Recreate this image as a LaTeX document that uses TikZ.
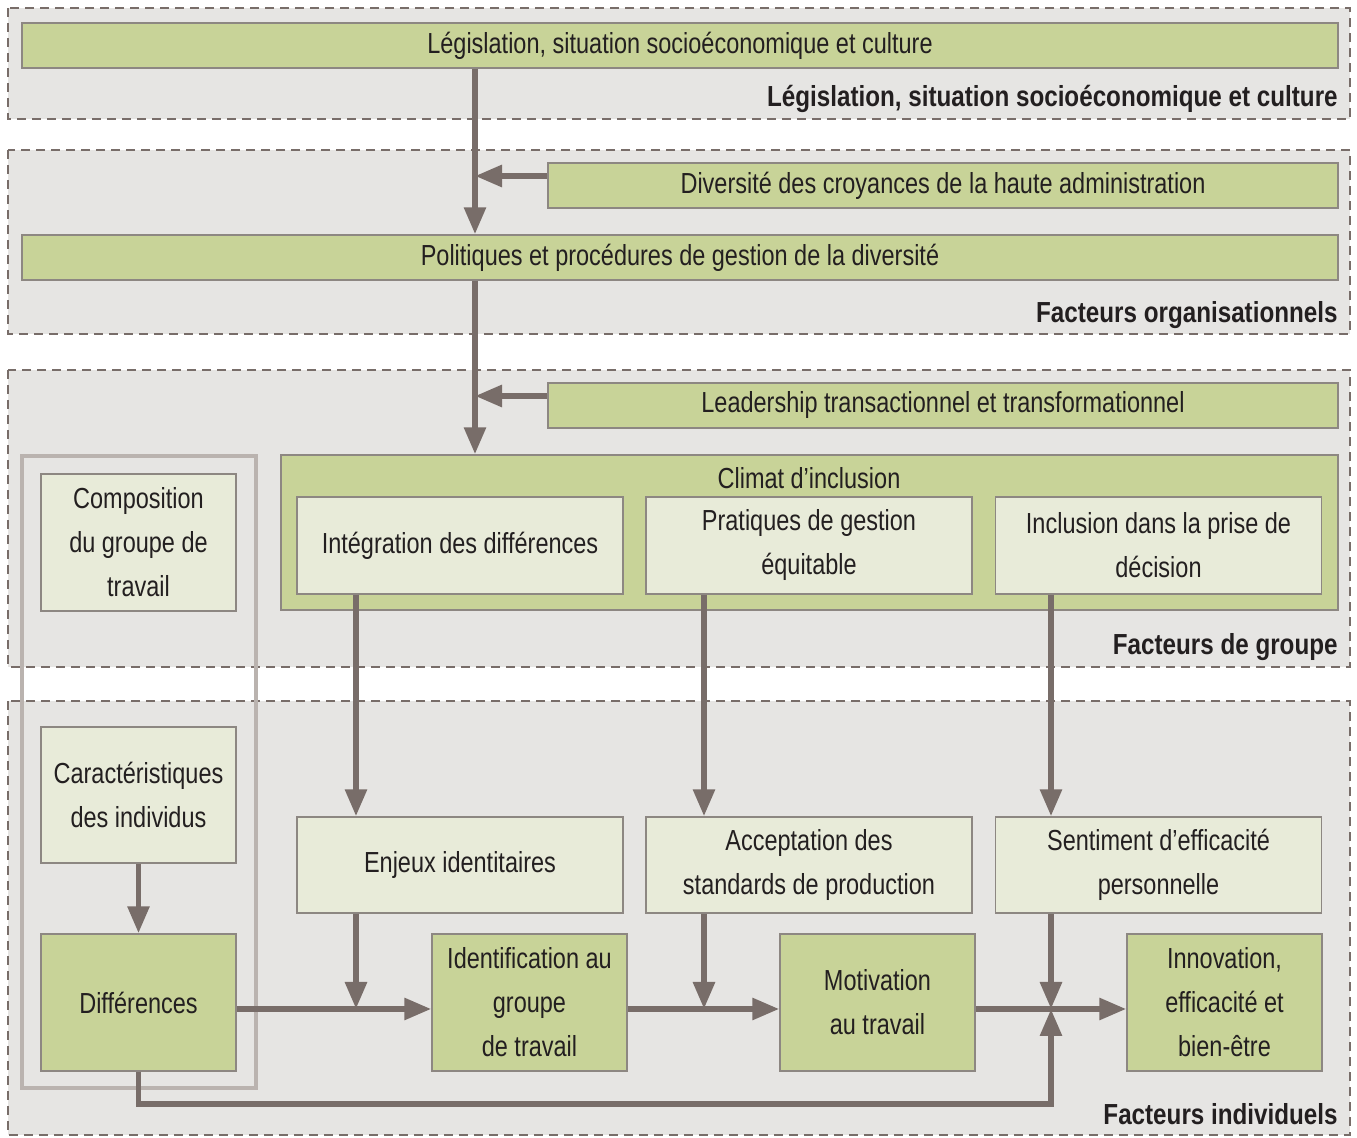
\documentclass[tikz,border=0pt]{standalone}
\usepackage{fontspec}
\setmainfont{Liberation Sans}[FakeStretch=0.81, BoldFeatures={FakeStretch=0.835}]
\usetikzlibrary{arrows.meta}
\definecolor{panelfill}{HTML}{E6E5E3}
\definecolor{gfill}{HTML}{C8D398}
\definecolor{lfill}{HTML}{E8EBD9}
\definecolor{arrc}{HTML}{786D69}
\definecolor{framec}{HTML}{BAB3AF}
\definecolor{bordc}{HTML}{8D8782}
\definecolor{txtc}{HTML}{231F20}
\tikzset{
  x=0.5pt, y=-0.5pt,
  panel/.style={draw=arrc, fill=panelfill, line width=1pt, dash pattern=on 4.5pt off 3pt},
  basebox/.style={draw=bordc, line width=0.7pt, inner sep=0pt, align=center, text=txtc,
    font=\fontsize{14.5}{22}\selectfont},
  gbox/.style={basebox, fill=gfill},
  lbox/.style={basebox, fill=lfill},
  wide/.style={minimum width=658pt, minimum height=22.5pt},
  half/.style={minimum width=395pt, minimum height=22.5pt},
  inner/.style={minimum width=163pt, minimum height=48.5pt},
  mid/.style={minimum width=163pt, minimum height=48pt},
  sq/.style={minimum width=97.5pt, minimum height=68.5pt},
  arr/.style={draw=arrc, line width=2.9pt, -{Triangle[width=10.5pt,length=13.5pt]}},
  lab/.style={anchor=base east, inner sep=0pt, text=txtc, font=\fontsize{14.5}{22}\selectfont\bfseries},
}
\begin{document}
\begin{tikzpicture}
\useasboundingbox (0,0) rectangle (1357,1138);
% panels
\draw[panel] (8,8) rectangle (1350,119);
\draw[panel] (8,150) rectangle (1350,334);
\draw[panel] (8,370) rectangle (1350,667);
\draw[panel] (8,701) rectangle (1350,1135);
% labels
\node[lab] (l1) at (1338,107) {Législation, situation socioéconomique et culture};
\node[lab] (l2) at (1338,323) {Facteurs organisationnels};
\node[lab] (l3) at (1338,655) {Facteurs de groupe};
\node[lab] (l4) at (1338,1125) {Facteurs individuels};
% top boxes
\node[gbox, wide] (leg) at (680,45.5) {Législation, situation socioéconomique et culture};
\node[gbox, half] (div) at (943,185.5) {Diversité des croyances de la haute administration};
\node[gbox, wide] (pol) at (680,257.5) {Politiques et procédures de gestion de la diversité};
\node[gbox, half] (lead) at (943,405.5) {Leadership transactionnel et transformationnel};
\node[gbox, minimum width=528.5pt, minimum height=77.5pt] (clim) at (809.5,532.5) {};
\node[text=txtc, font=\fontsize{14.5}{22}\selectfont, inner sep=0pt] (climt) at (809,478) {Climat d’inclusion};
\node[lbox, inner] (int) at (460,545.5) {Intégration des différences};
\node[lbox, inner] (prat) at (809,545.5) {Pratiques de gestion\\équitable};
\node[lbox, inner] (incl) at (1158.5,545.5) {Inclusion dans la prise de\\décision};
% left column
\draw[framec, line width=2pt] (22,456) rectangle (256,1088);
\node[lbox, sq] (comp) at (138.5,542.5) {Composition\\du groupe de\\travail};
\node[lbox, sq, minimum height=68pt] (car) at (138.5,795) {Caractéristiques\\des individus};
\node[gbox, sq] (dif) at (138.5,1002.5) {Différences};
% middle row
\node[lbox, mid] (enj) at (460,865) {Enjeux identitaires};
\node[lbox, mid] (acc) at (809,865) {Acceptation des\\standards de production};
\node[lbox, mid] (sent) at (1158.5,865) {Sentiment d’efficacité\\personnelle};
% bottom row
\node[gbox, sq] (ident) at (529.5,1002.5) {Identification au\\groupe\\de travail};
\node[gbox, sq] (mot) at (877.5,1002.5) {Motivation\\au travail};
\node[gbox, sq] (inno) at (1224.5,1002.5) {Innovation,\\efficacité et\\bien-être};
% coordinates
\coordinate (c1) at (475,176);
\coordinate (c2) at (475,396);
\coordinate (j1) at (356,1009);
\coordinate (j2) at (704,1009);
\coordinate (j3) at (1051,1009);
\coordinate (b3) at (1051,1104);
% connectors
\draw[arr] (leg.south -| c1) -- (pol.north -| c1);
\draw[arr] (div.west |- c1) -- (c1);
\draw[arr] (pol.south -| c2) -- (clim.north -| c2);
\draw[arr] (lead.west |- c2) -- (c2);
\draw[arr] (int.south -| j1) -- (enj.north -| j1);
\draw[arr] (prat.south -| j2) -- (acc.north -| j2);
\draw[arr] (incl.south -| j3) -- (sent.north -| j3);
\draw[arr] (car) -- (dif);
\draw[arr] (dif.east |- j1) -- (ident.west |- j1);
\draw[arr] (ident.east |- j2) -- (mot.west |- j2);
\draw[arr] (mot.east |- j3) -- (inno.west |- j3);
\draw[arr] (enj.south -| j1) -- (j1);
\draw[arr] (acc.south -| j2) -- (j2);
\draw[arr] (sent.south -| j3) -- (j3);
\draw[arr] (dif.south) |- (b3) -- (j3);
\end{tikzpicture}
\end{document}
